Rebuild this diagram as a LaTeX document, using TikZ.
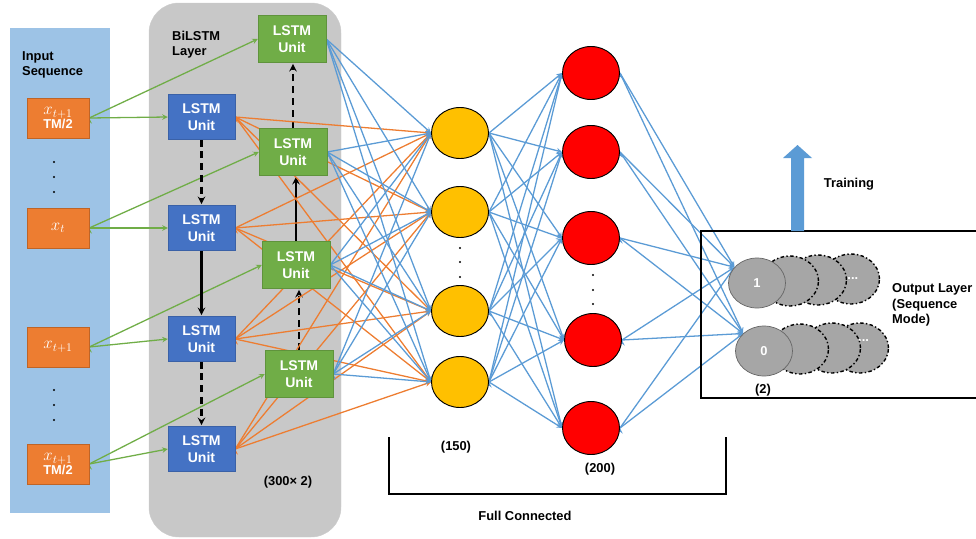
\documentclass[tikz,border=0pt]{standalone}
\usepackage{fontspec}
\setmainfont{Liberation Sans}
\usepackage{tikz}
\usetikzlibrary{arrows,shapes.geometric,positioning}

\pgfdeclarelayer{background}
\pgfdeclarelayer{links}
\pgfsetlayers{background,links,main}

\definecolor{inbg}{HTML}{9DC3E6}
\definecolor{layergray}{HTML}{C8C8C8}
\definecolor{inorange}{HTML}{ED7D31}
\definecolor{fwblue}{HTML}{4472C4}
\definecolor{bwgreen}{HTML}{70AD47}
\definecolor{linkblue}{HTML}{5B9BD5}
\definecolor{hidyellow}{HTML}{FFC000}
\definecolor{outgray}{HTML}{A6A6A6}

\newcommand{\seqx}[1]{{\fontsize{14}{12}\selectfont$x_{#1}$}}

\begin{document}
\begin{tikzpicture}[x=0.3mm,y=-0.3mm]

\tikzset{every node/.style={font=\bfseries\fontsize{11}{13}\selectfont},
inbox/.style={rectangle,fill=inorange,draw=inorange!80!black,text=white,minimum width=18.6mm,minimum height=12mm,inner sep=0mm,align=center,font=\bfseries\fontsize{11}{12}\selectfont},
fwcell/.style={rectangle,fill=fwblue,draw=fwblue!85!black,text=white,minimum width=20.1mm,minimum height=13.5mm,inner sep=0mm,align=center,font=\bfseries\fontsize{12}{14}\selectfont},
bwcell/.style={rectangle,fill=bwgreen,draw=bwgreen!85!black,text=white,minimum width=20.4mm,minimum height=14.1mm,inner sep=0mm,align=center,font=\bfseries\fontsize{12}{14}\selectfont},
hid1/.style={ellipse,fill=hidyellow,draw=black,line width=0.8pt,minimum width=17.1mm,minimum height=15.3mm,inner sep=0mm},
hid2/.style={ellipse,fill=red,draw=black,line width=0.8pt,minimum width=17.1mm,minimum height=15.9mm,inner sep=0mm},
outcell/.style={ellipse,fill=outgray,draw=black!60,line width=0.6pt,minimum width=17.1mm,minimum height=15mm,inner sep=0mm,text=white},
outghost/.style={outcell,draw=black,line width=1.2pt,dash dot},
inlink/.style={->,>=stealth,color=bwgreen,line width=1.1pt},
fwlink/.style={->,>=stealth,color=inorange,line width=1.1pt},
fclink/.style={->,>=stealth,color=linkblue,line width=1.1pt},
seqstep/.style={->,>=stealth,line width=1.8pt,shorten >=1pt},
seqgap/.style={seqstep,dash pattern=on 6pt off 4pt}}

\useasboundingbox (0,0) rectangle (976,538);

% Panels
\begin{pgfonlayer}{background}
\fill[inbg] (10,28) rectangle (110,513);
\draw[fill=layergray,draw=black!20,rounded corners=9mm] (149,3) rectangle (341,537);
\end{pgfonlayer}

\node[anchor=north west,align=left,inner sep=0mm] (intitle) at (22,51) {Input\\Sequence};
\node[anchor=north west,align=left,inner sep=0mm] (laytitle) at (172,31) {BiLSTM\\Layer};

% Input sequence
\node[inbox] (in1) at (58,118) {\seqx{t+1}\\TM/2};
\node[inbox] (in2) at (58,228) {\seqx{t}};
\node[inbox] (in3) at (58,347) {\seqx{t+1}};
\node[inbox] (in4) at (58,464) {\seqx{t+1}\\TM/2};

\fill (54,162) circle (0.35mm) (54,177) circle (0.35mm) (54,192) circle (0.35mm);
\fill (54,390) circle (0.35mm) (54,405) circle (0.35mm) (54,420) circle (0.35mm);

% Forward cells
\node[fwcell] (fw1) at (201.5,117) {LSTM\\Unit};
\node[fwcell] (fw2) at (201.5,228) {LSTM\\Unit};
\node[fwcell] (fw3) at (201.5,339) {LSTM\\Unit};
\node[fwcell] (fw4) at (201.5,449) {LSTM\\Unit};

% Backward cells
\node[bwcell] (bw1) at (292,39) {LSTM\\Unit};
\node[bwcell] (bw2) at (293,152) {LSTM\\Unit};
\node[bwcell] (bw3) at (296,265) {LSTM\\Unit};
\node[bwcell] (bw4) at (299,374) {LSTM\\Unit};

\node (units) at (288,482) {(300× 2)};

% Dense layers
\node[hid1] (h1) at (460,133) {};
\node[hid1] (h2) at (460,212) {};
\node[hid1] (h3) at (460,311) {};
\node[hid1] (h4) at (460,382) {};
\fill (460,248) circle (0.35mm) (460,262) circle (0.35mm) (460,277) circle (0.35mm);

\node[hid2] (d1) at (591,73) {};
\node[hid2] (d2) at (591,152) {};
\node[hid2] (d3) at (591,238) {};
\node[hid2] (d4) at (593,340) {};
\node[hid2] (d5) at (591,428) {};
\fill (593,275) circle (0.35mm) (593,290) circle (0.35mm) (593,304) circle (0.35mm);

\node (n150) at (456,447) {(150)};
\node (n200) at (600,469) {(200)};

\draw[line width=1.2pt] (389,437) -- (389,494) -- (726,494) -- (726,437);
\node (fullconn) at (525,516) {Full Connected};

% Output layer
\draw[line width=1.2pt] (976,231) -- (701,231) -- (701,398) -- (976,398);

\node[outghost] (o1c) at (851,279) {....};
\node[outghost] (o1b) at (818,280) {};
\node[outghost] (o1a) at (790,281) {};
\node[outcell] (o1) at (757,283) {1};

\node[outghost,align=left] (o0c) at (860,348) {.....\\.};
\node[outghost] (o0b) at (832,348) {};
\node[outghost] (o0a) at (800,349) {};
\node[outcell] (o0) at (764,351) {0};

\node (nout) at (763,390) {(2)};
\node[anchor=north west,align=left,inner sep=0mm,font=\bfseries\fontsize{11}{13.5}\selectfont] (outtitle) at (892,283) {Output Layer\\(Sequence\\Mode)};

\fill[linkblue] (791,231) -- (791,158) -- (783,158) -- (797.5,145) -- (812,158) -- (804,158) -- (804,231) -- cycle;
\node (train) at (849,184) {Training};

% Connections
\begin{pgfonlayer}{links}
\draw[inlink] (in1.east) edge (fw1.west) edge (bw1.west);
\draw[inlink] (in2.east) edge (fw2.west) edge (bw2.west);
\draw[inlink] (in3.east) edge (fw3.west) edge (bw3.west);
\draw[inlink] (in4.east) edge (fw4.west) edge (bw4.west);

\draw[seqgap] (fw1.south) -- (fw2.north);
\draw[seqstep] (fw2.south) -- (fw3.north);
\draw[seqgap] (fw3.south) -- (fw4.north);
\draw[seqgap] (bw2.north) -- (bw2.north |- bw1.south);
\draw[seqstep] (bw3.north) -- (bw3.north |- bw2.south);
\draw[seqgap] (bw4.north) -- (bw4.north |- bw3.south);

\draw[fwlink] (fw1.east) edge (h1.west) edge (h2.west) edge (h3.west) edge (h4.west);
\draw[fwlink] (fw2.east) edge (h1.west) edge (h2.west) edge (h3.west) edge (h4.west);
\draw[fwlink] (fw3.east) edge (h1.west) edge (h2.west) edge (h3.west) edge (h4.west);
\draw[fwlink] (fw4.east) edge (h1.west) edge (h2.west) edge (h3.west) edge (h4.west);

\draw[fclink] (bw1.east) edge (h1.west) edge (h2.west) edge (h3.west) edge (h4.west);
\draw[fclink] (bw2.east) edge (h1.west) edge (h2.west) edge (h3.west) edge (h4.west);
\draw[fclink] (bw3.east) edge (h1.west) edge (h2.west) edge (h3.west) edge (h4.west);
\draw[fclink] (bw4.east) edge (h1.west) edge (h2.west) edge (h3.west) edge (h4.west);

\draw[fclink] (h1.east) edge (d1.west) edge (d2.west) edge (d3.west) edge (d4.west) edge (d5.west);
\draw[fclink] (h2.east) edge (d1.west) edge (d2.west) edge (d3.west) edge (d4.west) edge (d5.west);
\draw[fclink] (h3.east) edge (d1.west) edge (d2.west) edge (d3.west) edge (d4.west) edge (d5.west);
\draw[fclink] (h4.east) edge (d1.west) edge (d2.west) edge (d3.west) edge (d4.west) edge (d5.west);

\draw[fclink] (d1.east) edge (o1.145) edge (o0.140);
\draw[fclink] (d2.east) edge (o1.145) edge (o0.140);
\draw[fclink] (d3.east) edge (o1.145) edge (o0.140);
\draw[fclink] (d4.east) edge (o1.145) edge (o0.140);
\draw[fclink] (d5.east) edge (o1.145) edge (o0.140);
\end{pgfonlayer}

\end{tikzpicture}
\end{document}
